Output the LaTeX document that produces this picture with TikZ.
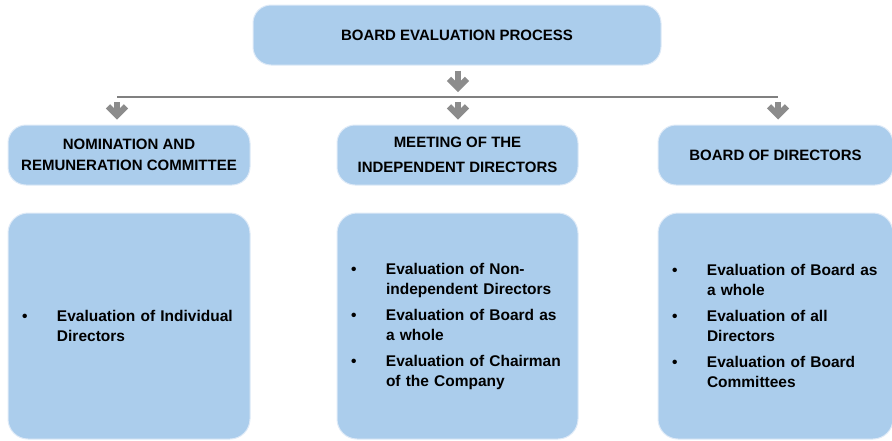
\documentclass[tikz,border=0pt]{standalone}
\usepackage{fontspec}
\setmainfont{Liberation Sans}
\usetikzlibrary{arrows.meta}
\definecolor{boxblue}{RGB}{171,205,236}
\definecolor{rimblue}{RGB}{222,234,247}
\definecolor{arrgrey}{RGB}{140,140,140}
\definecolor{linegrey}{RGB}{128,128,128}
\newcommand{\itm}[1]{\setlength{\parskip}{6pt}\hangindent=35pt\hangafter=1\makebox[35pt][l]{\textbullet}#1\par}

\begin{document}
\begin{tikzpicture}[x=1pt,y=-1pt,
	box/.style={draw=rimblue,line width=1pt,fill=boxblue,rounded corners=18pt,inner sep=0pt,minimum height=60pt,align=center,font=\bfseries\fontsize{15}{21}\selectfont},
	list/.style={box,rounded corners=20pt,minimum height=226pt,inner xsep=14pt,align=left,font=\bfseries\fontsize{15.5}{20}\selectfont},
	arr/.style={draw=arrgrey,line width=6pt,-{Straight Barb[length=9pt,width=18pt]},shorten <=5pt,shorten >=5pt},
	link/.style={draw=linegrey,line width=1.2pt}]
\useasboundingbox (0,0) rectangle (892,440);

\node[box,minimum width=408pt] (top) at (457,35) {BOARD EVALUATION PROCESS};

\node[box,minimum width=242pt] (nrc) at (129,155) {NOMINATION AND\\REMUNERATION COMMITTEE};
\node[box,minimum width=241pt] (mid) at (457.5,155) {MEETING OF THE\\[4pt]INDEPENDENT DIRECTORS};
\node[box,minimum width=235pt] (bod) at (775.5,155) {BOARD OF DIRECTORS};

\node[list,text width=214pt] (nrclist) at (129,326) {\itm{Evaluation of Individual\newline Directors}};
\node[list,text width=213pt] (midlist) at (457.5,326) {\itm{Evaluation of Non-\newline independent Directors}\itm{Evaluation of Board as\newline a whole}\itm{Evaluation of Chairman\newline of the Company}};
\node[list,text width=207pt] (bodlist) at (775.5,326) {\itm{Evaluation of Board as\newline a whole}\itm{Evaluation of all\newline Directors}\itm{Evaluation of Board\newline Committees}};

\coordinate (jl) at (117,97);
\coordinate (jm) at (458,97);
\coordinate (jr) at (778,97);

\draw[link] (jl) -- (jr);
\draw[arr] (top.south -| jm) -- (jm);
\foreach \j/\n in {jl/nrc,jm/mid,jr/bod}
	\draw[arr] (\j) -- (\j |- \n.north);
\end{tikzpicture}
\end{document}
